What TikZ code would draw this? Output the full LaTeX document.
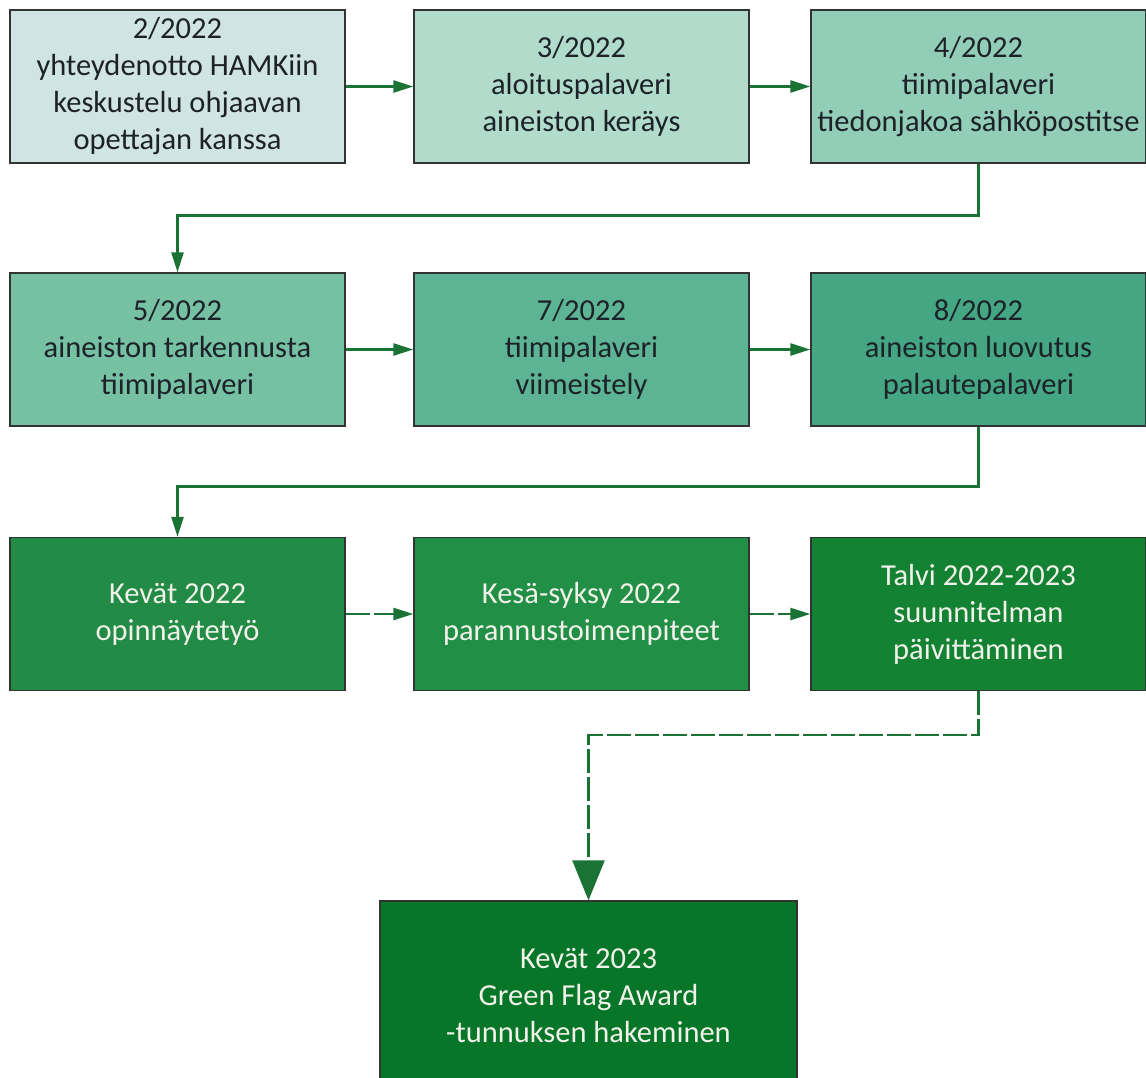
\documentclass[tikz,border=0pt]{standalone}
\usepackage{fontspec}
\setmainfont{Carlito}
\usetikzlibrary{arrows.meta}
\definecolor{cA}{HTML}{D0E4E4}
\definecolor{cB}{HTML}{B1DBCB}
\definecolor{cC}{HTML}{92CDB7}
\definecolor{cD}{HTML}{76C1A4}
\definecolor{cE}{HTML}{5DB494}
\definecolor{cF}{HTML}{45A683}
\definecolor{cG}{HTML}{228B45}
\definecolor{cH}{HTML}{218F45}
\definecolor{cI}{HTML}{148233}
\definecolor{cJ}{HTML}{077629}
\definecolor{lineG}{HTML}{1B7235}
\definecolor{darktext}{HTML}{1C2228}
\definecolor{lighttext}{HTML}{F2F2EA}
\tikzset{
  stepbox/.style={draw=black!80, line width=1.3pt, rectangle, inner sep=0pt,
    minimum width=335pt, minimum height=153pt, align=center,
    font=\fontsize{30.5}{37}\selectfont},
  darkbox/.style={stepbox, text=darktext},
  lightbox/.style={stepbox, text=lighttext},
  conn/.style={draw=lineG, line width=2.5pt, -{Triangle[length=20pt,width=12pt]}},
  dconn/.style={conn, dash pattern=on 24pt off 4pt},
}
\begin{document}
\begin{tikzpicture}[x=1pt,y=-1pt]
\useasboundingbox (0,0) rectangle (1146,1077);
\node[darkbox, fill=cA] (n1) at (177.5,86.5) {2/2022\\yhteydenotto HAMKiin\\keskustelu ohjaavan\\opettajan kanssa};
\node[darkbox, fill=cB] (n2) at (581.5,86.5) {3/2022\\aloituspalaveri\\aineiston keräys};
\node[darkbox, fill=cC] (n3) at (978.5,86.5) {4/2022\\tiimipalaveri\\tiedonjakoa sähköpostitse};
\node[darkbox, fill=cD] (n4) at (177.5,349.5) {5/2022\\aineiston tarkennusta\\tiimipalaveri};
\node[darkbox, fill=cE] (n5) at (581.5,349.5) {7/2022\\tiimipalaveri\\viimeistely};
\node[darkbox, fill=cF] (n6) at (978.5,349.5) {8/2022\\aineiston luovutus\\palautepalaveri};
\node[lightbox, fill=cG] (n7) at (177.5,614) {Kevät 2022\\opinnäytetyö};
\node[lightbox, fill=cH] (n8) at (581.5,614) {Kesä-syksy 2022\\parannustoimenpiteet};
\node[lightbox, fill=cI] (n9) at (978.5,614) {Talvi 2022-2023\\suunnitelman\\päivittäminen};
\node[lightbox, fill=cJ, minimum width=417pt, minimum height=190pt] (n10) at (588.5,996) {Kevät 2023\\Green Flag Award\\-tunnuksen hakeminen};

\draw[conn] (n1.east) -- (n2.west);
\draw[conn] (n2.east) -- (n3.west);
\draw[conn] (n3.south) -- ++(0,52) -| (n4.north);
\draw[conn] (n4.east) -- (n5.west);
\draw[conn] (n5.east) -- (n6.west);
\draw[conn] (n6.south) -- ++(0,60) -| (n7.north);
\draw[dconn] (n7.east) -- (n8.west);
\draw[dconn] (n8.east) -- (n9.west);
\draw[dconn, -{Triangle[length=40pt,width=32pt]}] (n9.south) -- ++(0,44) -| (n10.north);
\end{tikzpicture}
\end{document}
